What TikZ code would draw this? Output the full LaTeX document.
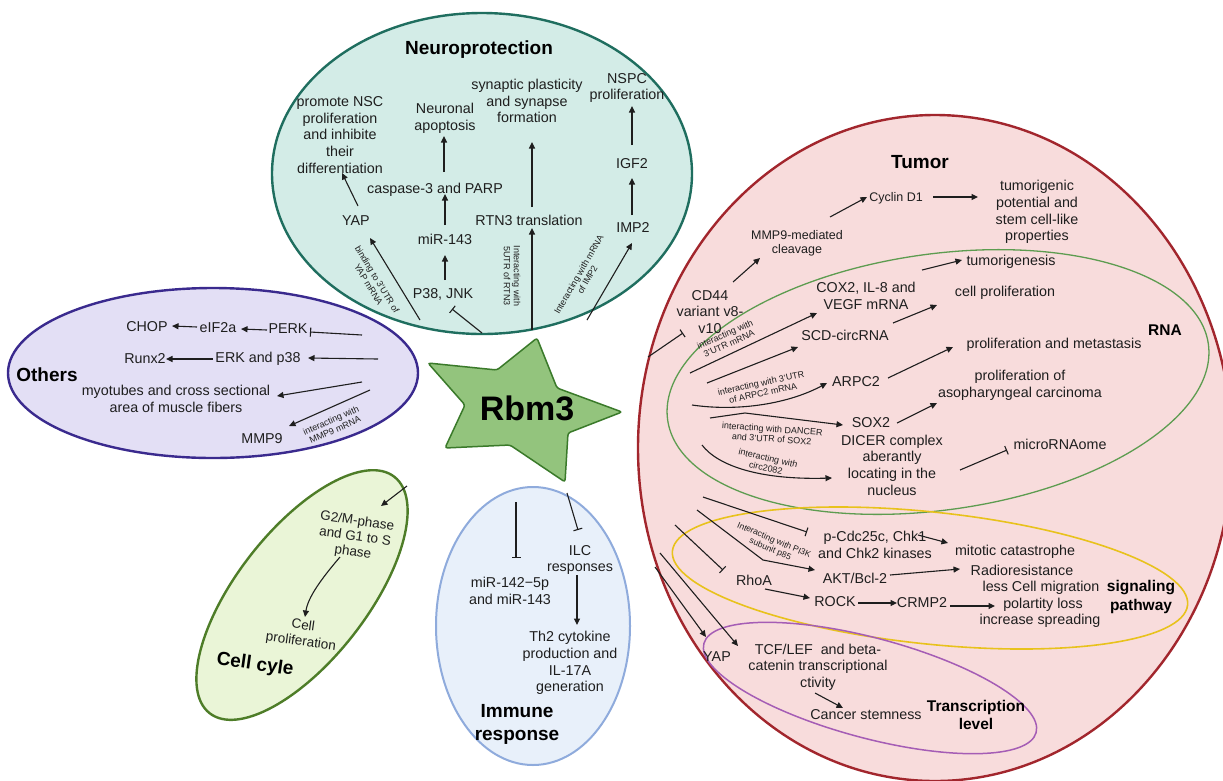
\documentclass[tikz,border=0pt]{standalone}
\usepackage{fontspec}
\setmainfont{Liberation Sans}
\usetikzlibrary{arrows.meta,calc}
\definecolor{ink}{HTML}{1E1E1E}
\definecolor{neuF}{HTML}{D3ECE7}
\definecolor{neuL}{HTML}{1F6E5F}
\definecolor{othF}{HTML}{E3DFF5}
\definecolor{othL}{HTML}{3A2A8E}
\definecolor{ccF}{HTML}{EAF5D7}
\definecolor{ccL}{HTML}{4E7D28}
\definecolor{imF}{HTML}{E8F0FA}
\definecolor{imL}{HTML}{8FABDC}
\definecolor{tuF}{HTML}{F8DCDC}
\definecolor{tuL}{HTML}{A2262D}
\definecolor{rnaL}{HTML}{5D9C50}
\definecolor{sigL}{HTML}{E8C21C}
\definecolor{trL}{HTML}{A55DB5}
\definecolor{starF}{HTML}{93C47D}
\definecolor{starL}{HTML}{3A7A2A}
\begin{document}
\begin{tikzpicture}[x=1pt,y=-1pt,
  txt/.style={font=\fontsize{14.3}{16.6}\selectfont, align=center, inner sep=1pt, text=ink},
  stxt/.style={font=\fontsize{12.5}{14}\selectfont, align=center, inner sep=1pt, text=ink},
  sm/.style={font=\fontsize{9}{10}\selectfont, align=center, inner sep=0pt, text=ink},
  ttl/.style={font=\bfseries\fontsize{19}{23}\selectfont, align=center, inner sep=0pt, text=black},
  sttl/.style={font=\bfseries\fontsize{15.5}{18.5}\selectfont, align=center, inner sep=0pt, text=black},
  arr/.style={draw=ink, line width=1.1pt, -{Triangle[length=6.5pt,width=6pt]}},
  inh/.style={draw=ink, line width=1.1pt, -{Bar[width=9pt]}},
]
\useasboundingbox (0,0) rectangle (1223,780);
\clip (0,0) rectangle (1223,780);
\fill[white] (0,0) rectangle (1223,780);

% group ellipses
\draw[fill=neuF, draw=neuL, line width=2.4pt] (482,173.5) ellipse [x radius=210, y radius=160.5];
\draw[fill=othF, draw=othL, line width=2.4pt] (213,373) ellipse [x radius=205, y radius=85];
\draw[fill=ccF, draw=ccL, line width=2.4pt, rotate around={52:(302,595)}] (302,595) ellipse [x radius=150, y radius=65];
\draw[fill=imF, draw=imL, line width=2pt] (533,626) ellipse [x radius=97, y radius=139];
\draw[fill=tuF, draw=tuL, line width=2.4pt] (935,448) ellipse [x radius=297, y radius=333];
\draw[draw=rnaL, line width=1.3pt, rotate around={8:(938,382)}] (938,382) ellipse [x radius=273, y radius=128];
\draw[draw=sigL, line width=1.6pt, rotate around={-6:(930,578)}] (930,578) ellipse [x radius=259, y radius=66];
\draw[draw=trL, line width=1.5pt, rotate around={-15:(870,688)}] (870,688) ellipse [x radius=172, y radius=50];

% star
\filldraw[fill=starF, draw=starL, line width=1.5pt, rounded corners=2.5pt]
  (537,338) -- (557,388) -- (622,412) -- (568,433) -- (565,482) -- (510,445)
  -- (445,448) -- (465,405) -- (428,363) -- (497,370) -- cycle;
\node[font=\bfseries\fontsize{34}{36}\selectfont, text=black] (rbm) at (527,408) {Rbm3};

% ---------- Neuroprotection ----------
\node[ttl] (neuT) at (479,50) {Neuroprotection};
\node[txt] (nsc) at (340,135) {promote NSC\\proliferation\\and inhibite\\their\\differentiation};
\node[txt] (apop) at (445,118) {Neuronal\\apoptosis};
\node[txt] (syn) at (527,101) {synaptic plasticity\\and synapse\\formation};
\node[txt] (nspc) at (627,88) {NSPC\\proliferation};
\node[txt] (casp) at (435,190) {caspase-3 and PARP};
\node[txt] (yapn) at (356,221) {YAP};
\node[txt] (mir) at (445,239) {miR-143};
\node[txt] (rtn) at (529,220) {RTN3 translation};
\node[txt] (igf) at (632,164) {IGF2};
\node[txt] (imp) at (633,228) {IMP2};
\node[txt] (p38) at (443,294) {P38, JNK};
\node[sm, rotate=-59] (lyap) at (373,282) {binding to 3'UTR of\\YAP mRNA};
\node[sm, rotate=-90] (lrtn) at (512,276) {Interacting with\\5UTR of RTN3};
\node[sm, rotate=60] (limp) at (583,277) {Interacting with mRNA\\of IMP2};

\coordinate (n1) at (420,320);
\coordinate (n2) at (482,333);
\coordinate (n3) at (532,330);
\coordinate (n4) at (587,320);
\draw[arr] ($(yapn)+(2,-15)$) -- ($(nsc)+(2,38)$);
\draw[arr] ($(casp)+(9,-18)$) -- ($(apop)+(-1,18)$);
\draw[arr] ($(mir)+(0,-14)$) -- ($(casp)+(10,4)$);
\draw[arr] ($(p38)+(2,-14)$) -- ($(mir)+(0,16)$);
\draw[inh] (n2) -- ($(p38)+(9,15)$);
\draw[arr] (n1) -- ($(yapn)+(14,17)$);
\draw[arr] (n3) -- ($(rtn)+(3,8)$);
\draw[arr] ($(rtn)+(3,-13)$) -- ($(syn)+(5,41)$);
\draw[arr] ($(imp)+(-1,-13)$) -- ($(igf)+(0,14)$);
\draw[arr] ($(igf)+(0,-19)$) -- ($(nspc)+(5,18)$);
\draw[arr] (n4) -- ($(imp)+(-1,15)$);

% ---------- Others ----------
\node[ttl] (othT) at (47,375) {Others};
\node[txt] (chop) at (147,327) {CHOP};
\node[txt] (eif) at (218,328) {eIF2a};
\node[txt] (perk) at (288,329) {PERK};
\node[txt] (runx) at (145,359) {Runx2};
\node[txt] (erk) at (258,359) {ERK and p38};
\node[txt] (myo) at (176,399) {myotubes and cross sectional\\area of muscle fibers};
\node[txt] (mmp) at (262,439) {MMP9};
\node[sm, rotate=24] (lmmp) at (333,425) {interacting with\\MMP9 mRNA};

\coordinate (o1) at (362,335);
\coordinate (o2) at (378,359);
\coordinate (o3) at (362,382);
\coordinate (o4) at (370,390);
\draw[inh] (o1) -- ($(perk)+(22,3)$);
\draw[arr] ($(perk)+(-21,1)$) -- ($(eif)+(23,1)$);
\draw[arr] ($(eif)+(-21,-1)$) -- ($(chop)+(25,-1)$);
\draw[arr] (o2) -- ($(erk)+(50,-1)$);
\draw[arr] ($(erk)+(-45,0)$) -- ($(runx)+(21,0)$);
\draw[arr] (o3) -- ($(myo)+(101,-3)$);
\draw[arr] (o4) -- ($(mmp)+(27,-13)$);

% ---------- Cell cycle ----------
\node[txt, font=\fontsize{13.5}{15.5}\selectfont, rotate=-8] (gm) at (355,537) {G2/M-phase\\and G1 to S\\phase};
\node[txt, font=\fontsize{13.5}{16}\selectfont, rotate=-8] (cp) at (302,634) {Cell\\proliferation};
\node[ttl, rotate=-8] (ccT) at (255,665) {Cell cyle};
\coordinate (c1) at (407,486);
\draw[arr] (c1) -- ($(gm)+(26,-31)$);
\draw[arr] ($(gm)+(-15,20)$) .. controls (322,578) and (308,597) .. ($(cp)+(3,-17)$);

% ---------- Immune response ----------
\node[txt] (m142) at (510,591) {miR-142−5p\\and miR-143};
\node[txt] (ilc) at (580,560) {ILC\\responses};
\node[txt] (th2) at (570,663) {Th2 cytokine\\production and\\IL-17A\\generation};
\node[ttl] (imT) at (517,724) {Immune\\response};
\coordinate (i1) at (516,502);
\coordinate (i2) at (567,493);
\draw[inh] (i1) -- ($(m142)+(6,-33)$);
\draw[inh] (i2) -- ($(ilc)+(-2,-30)$);
\draw[arr] ($(ilc)+(-3,15)$) -- ($(th2)+(7,-38)$);

% ---------- Tumor ----------
\node[ttl] (tuT) at (920,162) {Tumor};
\node[stxt] (cyc) at (896,198) {Cyclin D1};
\node[txt] (tpot) at (1037,212) {tumorigenic\\potential and\\stem cell-like\\properties};
\node[stxt] (mmpc) at (797,243) {MMP9-mediated\\cleavage};
\node[txt] (cd44) at (710,312) {CD44\\variant v8-\\v10};
\node[txt] (tgen) at (1011,262) {tumorigenesis};
\node[txt] (cox) at (866,296) {COX2, IL-8 and\\VEGF mRNA};
\node[txt] (cellp) at (1005,293) {cell proliferation};
\node[txt] (scd) at (845,335) {SCD-circRNA};
\node[txt] (pm) at (1054,345) {proliferation and metastasis};
\node[sttl] (rnaT) at (1165,330) {RNA};
\node[txt] (arpc) at (856,382) {ARPC2};
\node[txt] (pac) at (1020,385) {proliferation of\\asopharyngeal carcinoma};
\node[txt] (sox) at (871,423) {SOX2};
\node[txt] (dicer) at (892,465) {DICER complex\\aberantly\\locating in the\\nucleus};
\node[txt] (mirna) at (1060,444) {microRNAome};
\node[sm, rotate=24] (l3utr) at (727,339) {interacting with\\3'UTR mRNA};
\node[sm, rotate=12] (larpc) at (762,388) {interacting with 3'UTR\\of ARPC2 mRNA};
\node[sm, rotate=-4] (ldancer) at (772,434) {interacting with DANCER\\and 3'UTR of SOX2};
\node[sm, rotate=-13] (lcirc) at (767,463) {interacting with\\circ2082};
\node[txt] (pcdc) at (875,545) {p-Cdc25c, Chk1\\and Chk2 kinases};
\node[txt] (mito) at (1015,552) {mitotic catastrophe};
\node[sm, font=\fontsize{8.6}{9.6}\selectfont, rotate=-23] (lpi3k) at (772,545) {Interacting with PI3K\\subunit p85};
\node[txt] (akt) at (855,578) {AKT/Bcl-2};
\node[txt] (radio) at (1022,570) {Radioresistance};
\node[txt] (lcm) at (1041,588) {less Cell migration};
\node[txt] (pol) at (1043,605) {polartity loss};
\node[txt] (incs) at (1040,621) {increase spreading};
\node[sttl] (sigT) at (1141,597) {signaling\\pathway};
\node[txt] (rhoa) at (754,580) {RhoA};
\node[txt] (rock) at (835,602) {ROCK};
\node[txt] (crmp) at (922,603) {CRMP2};
\node[txt] (yapt) at (717,657) {YAP};
\node[txt] (tcf) at (818,667) {TCF/LEF\ \ and beta-\\catenin transcriptional\\ctivity};
\node[txt] (cs) at (866,715) {Cancer stemness};
\node[sttl, font=\bfseries\fontsize{15.5}{17.5}\selectfont] (trT) at (976,715) {Transcription\\level};

\coordinate (t1) at (648,357);
\coordinate (t2) at (690,373);
\coordinate (t3) at (707,383);
\coordinate (t4) at (692,405);
\coordinate (t5) at (710,418);
\coordinate (t5b) at (745,413);
\coordinate (t6) at (702,445);
\coordinate (t7) at (703,497);
\coordinate (t8) at (697,510);
\coordinate (t8b) at (763,560);
\coordinate (t9) at (675,525);
\coordinate (t10) at (655,567);
\coordinate (t11) at (660,553);

\draw[inh] (t1) -- ($(cd44)+(-27,21)$);
\draw[arr] ($(cd44)+(23,-30)$) -- ($(mmpc)+(-37,15)$);
\draw[arr] ($(mmpc)+(33,-26)$) -- ($(cyc)+(-29,-1)$);
\draw[arr] ($(cyc)+(37,-1)$) -- ($(tpot)+(-59,-15)$);
\draw[arr] ($(cox)+(56,-26)$) -- ($(tgen)+(-49,-2)$);
\draw[arr] (t2) -- ($(cox)+(-49,17)$);
\draw[arr] (t3) -- ($(scd)+(-47,12)$);
\draw[arr] ($(scd)+(48,-12)$) -- ($(cellp)+(-68,12)$);
\draw[arr] ($(arpc)+(32,-4)$) -- ($(pm)+(-101,2)$);
\draw[arr] (t4) .. controls (740,412) and (790,403) .. ($(arpc)+(-29,1)$);
\draw[arr] (t5) -- (t5b) -- ($(sox)+(-28,2)$);
\draw[arr] ($(sox)+(26,0)$) -- ($(pac)+(-83,18)$);
\draw[arr] (t6) .. controls (718,466) and (760,480) .. ($(dicer)+(-60,13)$);
\draw[inh] ($(dicer)+(68,5)$) -- ($(mirna)+(-53,6)$);
\draw[inh] (t7) -- ($(pcdc)+(-68,-13)$);
\draw[arr] ($(pcdc)+(43,-10)$) -- ($(mito)+(-67,-9)$);
\draw[arr] (t8) -- (t8b) -- ($(akt)+(-40,-8)$);
\draw[arr] ($(akt)+(35,-3)$) -- ($(radio)+(-62,-1)$);
\draw[inh] (t9) -- ($(rhoa)+(-31,-10)$);
\draw[arr] ($(rhoa)+(11,9)$) -- ($(rock)+(-25,-4)$);
\draw[arr] ($(rock)+(23,1)$) -- ($(crmp)+(-25,0)$);
\draw[arr] ($(crmp)+(28,3)$) -- ($(pol)+(-48,1)$);
\draw[arr] (t10) -- ($(yapt)+(-11,-20)$);
\draw[arr] (t11) -- ($(tcf)+(-80,-21)$);
\draw[arr] ($(tcf)+(-3,26)$) -- ($(cs)+(-23,-7)$);
\end{tikzpicture}
\end{document}
